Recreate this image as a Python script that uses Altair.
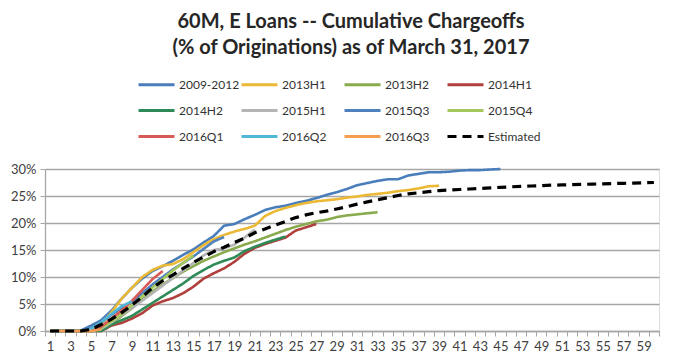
import altair as alt
import pandas as pd

series_names = ["2009-2012", "2013H1", "2013H2", "2014H1", "2014H2", "2015H1",
                "2015Q3", "2015Q4", "2016Q1", "2016Q2", "2016Q3", "Estimated"]
colors = ["#4A7EBB", "#EBB935", "#8AAA4E", "#B0403C", "#2E8B57", "#B4B4B4",
          "#4F81BD", "#A5C85A", "#D75A55", "#50B8D6", "#F59D50", "#000000"]

s_2009_2012 = [0, 0, 0, 0.1, 1.0, 2.0, 3.8, 6.0, 8.0, 9.7, 11.1, 12.0, 13.0, 14.1, 15.1,
               16.4, 17.6, 19.5, 19.8, 20.7, 21.5, 22.4, 22.9, 23.2, 23.7, 24.1, 24.6,
               25.2, 25.7, 26.3, 27.0, 27.4, 27.8, 28.1, 28.1, 28.8, 29.1, 29.4, 29.4,
               29.5, 29.7, 29.8, 29.8, 29.9, 30.0]
s_2013H1 = [0, 0, 0, 0, 0.3, 1.2, 3.5, 6.0, 8.0, 10.0, 11.3, 12.1, 12.4, 13.3, 14.6, 15.9,
            17.0, 17.8, 18.4, 18.9, 19.5, 21.3, 22.2, 22.8, 23.3, 23.7, 24.0, 24.2, 24.4,
            24.7, 24.9, 25.2, 25.4, 25.6, 25.9, 26.1, 26.4, 26.8, 26.9]
s_2013H2 = [0, 0, 0, 0, 0, 0.3, 1.2, 2.8, 4.2, 5.8, 7.3, 8.6, 9.8, 11.0, 12.0, 13.0, 13.8,
            14.6, 15.3, 16.0, 16.6, 17.3, 18.0, 18.7, 19.3, 19.8, 20.3, 20.6, 21.1, 21.4,
            21.6, 21.8, 22.0]
s_2014H1 = [0, 0, 0, 0, 0, 0, 1.0, 1.5, 2.3, 3.3, 4.7, 5.5, 6.1, 7.0, 8.2, 9.7, 10.7, 11.6,
            12.8, 14.3, 15.4, 16.1, 16.7, 17.3, 18.6, 19.2, 19.8]
s_2014H2 = [0, 0, 0, 0, 0, 0, 1.2, 2.0, 2.8, 4.0, 5.2, 6.4, 7.6, 8.8, 10.2, 11.3, 12.3, 13.0,
            13.6, 14.8, 15.6, 16.3, 16.9, 17.5]
s_2015H1 = [0, 0, 0, 0, 0, 0.4, 1.6, 3.0, 4.3, 5.6, 7.0, 8.4, 9.8, 11.2, 12.6, 14.0, 15.0,
            15.3, 16.0, 17.3, 18.8]
s_2015Q3 = [0, 0, 0, 0, 0.5, 1.6, 3.0, 4.3, 5.4, 7.0, 8.6, 10.0, 11.4, 12.6, 13.8, 15.2,
            16.6, 17.4]
s_2015Q4 = [0, 0, 0, 0, 0, 0.6, 1.8, 3.2, 4.8, 6.4, 8.0, 9.6, 11.2, 12.6, 14.0]
s_2016Q1 = [0, 0, 0, 0, 0, 0.8, 2.3, 3.8, 5.6, 7.6, 9.6, 11.1]
s_2016Q2 = [0, 0, 0, 0, 0.4, 1.6, 3.2, 4.6, 5.5]
s_2016Q3 = [0, 0, 0, 0, 0, 0.3]
s_estimated = [0, 0, 0, 0, 0.3, 1.2, 2.2, 3.4, 4.8, 6.3, 8.0, 9.3, 10.4, 11.6, 12.7, 13.7,
               14.7, 15.5, 16.4, 17.2, 18.2, 18.9, 19.6, 20.3, 21.0, 21.5, 21.9, 22.2,
               22.6, 23.0, 23.5, 23.9, 24.3, 24.7, 25.1, 25.4, 25.6, 25.8, 26.0, 26.1,
               26.2, 26.3, 26.4, 26.5, 26.6, 26.7, 26.8, 26.85, 26.9, 27.0, 27.05, 27.1,
               27.15, 27.2, 27.25, 27.3, 27.35, 27.4, 27.45, 27.5]

series_values = [s_2009_2012, s_2013H1, s_2013H2, s_2014H1, s_2014H2, s_2015H1,
                 s_2015Q3, s_2015Q4, s_2016Q1, s_2016Q2, s_2016Q3, s_estimated]

title_lines = ["60M, E Loans -- Cumulative Chargeoffs",
               "(% of Originations) as of March 31, 2017"]
y_ticks = [0, 5, 10, 15, 20, 25, 30]
x_label_months = list(range(1, 60, 2))
x_boundaries = [i + 0.5 for i in range(0, 61)]

rows = []
for idx, (name, vals) in enumerate(zip(series_names, series_values)):
    for i, v in enumerate(vals):
        rows.append({"month": i + 1, "series": name, "value": v, "order": idx})
df = pd.DataFrame(rows)

FONT = "Lato"
GRAY = "#A6A6A6"

color_scale = alt.Scale(domain=series_names, range=colors)
dash_scale = alt.Scale(domain=series_names, range=[[1, 0]] * 11 + [[9, 6]])

legend = alt.Legend(
    orient="none", legendX=92, legendY=-104, columns=4, direction="horizontal",
    title=None, symbolType="stroke", symbolSize=1296, symbolStrokeWidth=3,
    labelFont=FONT, labelFontSize=12, labelColor="#333333",
    columnPadding=-15, rowPadding=-2, gridAlign="all", labelOffset=3, padding=0,
)

x_enc = alt.X(
    "month:Q",
    scale=alt.Scale(domain=[0.5, 60.5], nice=False, zero=False),
    axis=alt.Axis(
        values=sorted(x_boundaries + x_label_months),
        labelExpr="datum.value % 2 == 1 ? toString(datum.value) : ''",
        labelOverlap=False,
        tickOpacity={"condition": {"test": "datum.value % 1 == 0", "value": 0}, "value": 1},
        tickSize=5, tickColor=GRAY, domainColor=GRAY, domainWidth=1.3, grid=False,
        labelFont=FONT, labelFontSize=13, labelColor="#404040", labelPadding=4,
    ),
    title=None,
)
y_enc = alt.Y(
    "value:Q",
    scale=alt.Scale(domain=[0, 30], nice=False),
    axis=alt.Axis(
        values=y_ticks, labelExpr="datum.value + '%'",
        grid=True, gridColor=GRAY, gridWidth=1.3,
        tickSize=5, tickColor=GRAY, domainColor=GRAY, domainWidth=1.3,
        labelFont=FONT, labelFontSize=13, labelColor="#404040", labelPadding=4,
    ),
    title=None,
)

base = alt.Chart(df).mark_line(strokeWidth=2.6).encode(
    x=x_enc,
    y=y_enc,
    color=alt.Color("series:N", scale=color_scale, legend=legend),
    strokeDash=alt.StrokeDash("series:N", scale=dash_scale, legend=legend),
    order=alt.Order("month:Q"),
)

solid = base.transform_filter("datum.series != 'Estimated'")
est = base.transform_filter("datum.series == 'Estimated'").mark_line(strokeWidth=3.2)

chart = alt.layer(solid, est).properties(
    width=614, height=162,
    title=alt.TitleParams(
        text=title_lines, font=FONT, fontSize=20, fontWeight="bold",
        color="#262626", anchor="middle", dx=-1, offset=7, lineHeight=26,
    ),
    autosize=alt.AutoSizeParams(type="none"),
    padding={"left": 37, "top": 161, "right": 8, "bottom": 25},
).configure_view(stroke=None).configure(background="white")

chart.save("out.html", embed_options={"renderer": "svg", "actions": False})
